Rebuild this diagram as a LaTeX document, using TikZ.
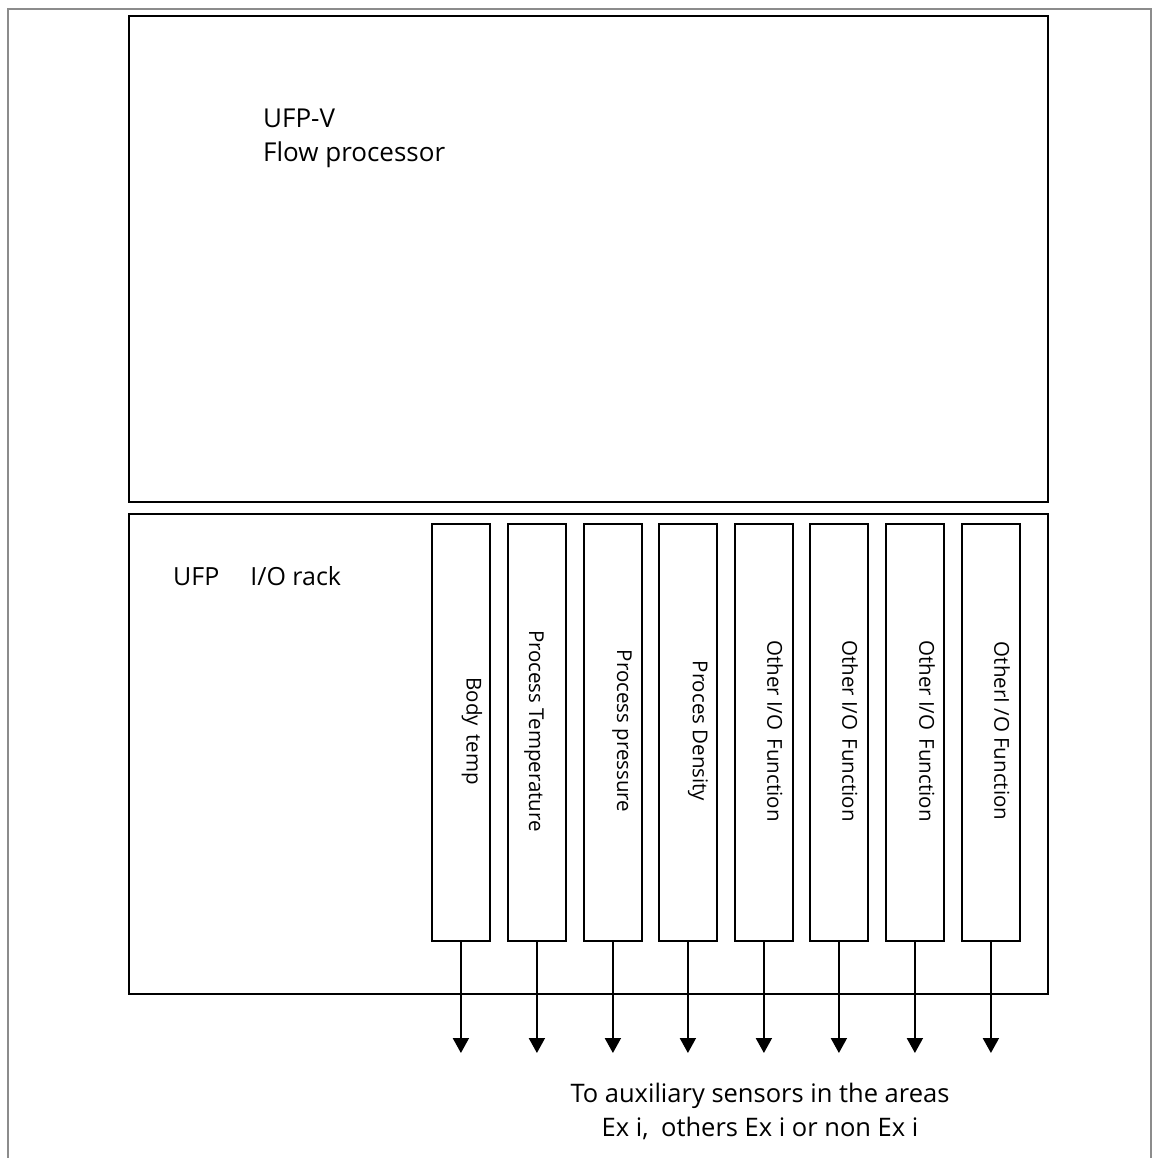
\documentclass[tikz,border=0pt]{standalone}
\usepackage{fontspec}
\setmainfont{Open Sans}
\usetikzlibrary{arrows.meta}
\tikzset{
  box/.style={draw=black, line width=2pt, rectangle, inner sep=0pt, anchor=north west},
  iocol/.style={draw=black, line width=1.8pt, rectangle, inner sep=0pt, anchor=north west, minimum width=58pt, minimum height=417pt},
  lbl/.style={font=\fontsize{26}{32}\selectfont, inner sep=0pt},
  vlbl/.style={font=\fontsize{20.5}{24}\selectfont, inner sep=0pt, rotate=-90, anchor=center},
  sigarrow/.style={line width=2pt, -{Triangle[width=16pt,length=15pt]}}
}
\begin{document}
\begin{tikzpicture}[x=1pt,y=-1pt]
\useasboundingbox (0,0) rectangle (1154,1158);
\fill[white] (0,0) rectangle (1154,1158);
\draw[color=black!45, line width=2pt] (8,1160) -- (8,9) -- (1151,9) -- (1151,1160);
% top box
\node[box, minimum width=919pt, minimum height=486pt] (fp) at (128,15) {};
\node[lbl, anchor=base west] (fpa) at (263,128) {UFP-V};
\node[lbl, anchor=base west] (fpb) at (263,162) {Flow processor};
% rack box
\node[box, minimum width=919pt, minimum height=480pt] (rack) at (128,513) {};
\node[lbl, font=\fontsize{25}{30}\selectfont, anchor=base west] (racka) at (173,585) {UFP\hspace{31pt}I/O rack};
% columns
\node[iocol] (c1) at (431,523) {};
\node[iocol] (c2) at (507,523) {};
\node[iocol] (c3) at (583,523) {};
\node[iocol] (c4) at (658,523) {};
\node[iocol] (c5) at (734,523) {};
\node[iocol] (c6) at (809,523) {};
\node[iocol] (c7) at (885,523) {};
\node[iocol] (c8) at (961,523) {};
\node[vlbl] (t1) at (472,731) {Body\hspace{3pt} temp};
\node[vlbl] (t2) at (534,731) {Process Temperature};
\node[vlbl] (t3) at (622,731) {Process pressure};
\node[vlbl] (t4) at (698,731) {Proces Density};
\node[vlbl] (t5) at (775,731) {Other I/O\hspace{3pt} Function};
\node[vlbl] (t6) at (850,731) {Other I/O\hspace{3pt} Function};
\node[vlbl] (t7) at (927,731) {Other I/O\hspace{3pt} Function};
\node[vlbl] (t8) at (1002,731) {OtherI /O Function};
% arrow ends
\foreach \i in {1,...,8}{
  \coordinate (e\i) at (c\i.south |- 0,1053);
  \draw[sigarrow] (c\i.south) -- (e\i);
}
\node[lbl, font=\fontsize{25.5}{30}\selectfont, anchor=base] (desta) at (760,1102) {To auxiliary sensors in the areas};
\node[lbl, font=\fontsize{25.5}{30}\selectfont, anchor=base] (destb) at (760,1136) {Ex i,\hspace{6pt} others Ex i or non Ex i};
\end{tikzpicture}
\end{document}
